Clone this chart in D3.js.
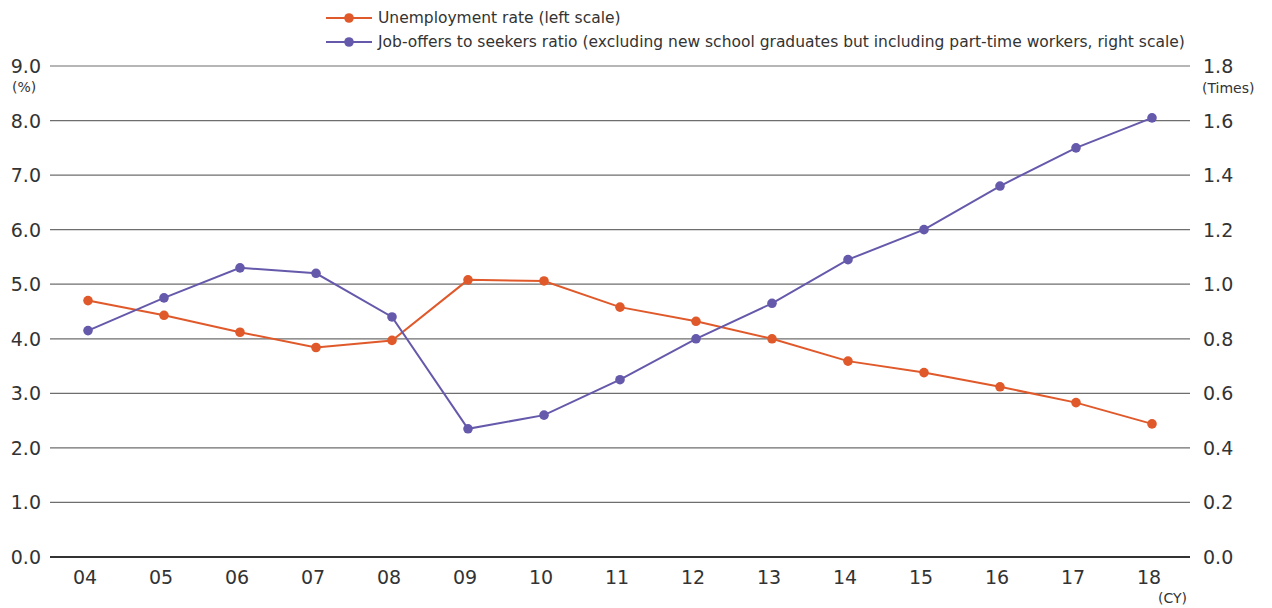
<!DOCTYPE html>
<html>
<head>
<meta charset="utf-8">
<script src="https://cdn.jsdelivr.net/npm/d3@7"></script>
<style>
  body { margin: 0; background: #fff; }
  svg { display: block; font-family: "DejaVu Sans", sans-serif; }
</style>
</head>
<body>
<div id="chart"></div>
<script>
// unemployment vs job-offers ratio, 2004-2018
var years = ['04','05','06','07','08','09','10','11','12','13','14','15','16','17','18'];
var unemployment = [4.7, 4.43, 4.12, 3.84, 3.97, 5.08, 5.06, 4.58, 4.32, 4.0, 3.59, 3.38, 3.12, 2.83, 2.44];
var jobRatio = [0.83, 0.95, 1.06, 1.04, 0.88, 0.47, 0.52, 0.65, 0.80, 0.93, 1.09, 1.20, 1.36, 1.50, 1.61];
var leftTicks = [0, 1, 2, 3, 4, 5, 6, 7, 8, 9];
var rightTicks = [0, 0.2, 0.4, 0.6, 0.8, 1.0, 1.2, 1.4, 1.6, 1.8];
var legendLabels = [
	'Unemployment rate (left scale)',
	'Job-offers to seekers ratio (excluding new school graduates but including part-time workers, right scale)'
];

var fmt = {
	left: 50, right: 1190, top: 66, bottom: 557,
	clr_unemp: '#e0592a',
	clr_job: '#6559ab',
	clr_grid: '#6e6e6e',
	clr_text: '#333'
};

var W = 1272, H = 608;
var svg = d3.select('#chart').append('svg').attr('width', W).attr('height', H);

var x = d3.scaleBand().domain(years).range([fmt.left, fmt.right]);
var yL = d3.scaleLinear().domain([0, 9]).range([fmt.bottom, fmt.top]);
var yR = d3.scaleLinear().domain([0, 1.8]).range([fmt.bottom, fmt.top]);

// grid
svg.append('g').selectAll('line').data(leftTicks.filter(function(d){ return d > 0; }))
	.join('line')
	.attr('x1', fmt.left).attr('x2', fmt.right)
	.attr('y1', function(d){ return yL(d); }).attr('y2', function(d){ return yL(d); })
	.attr('stroke', fmt.clr_grid).attr('stroke-width', 1.2);

// baseline
svg.append('line')
	.attr('x1', fmt.left).attr('x2', fmt.right)
	.attr('y1', yL(0)).attr('y2', yL(0))
	.attr('stroke', '#333').attr('stroke-width', 2.2);

// left axis labels
svg.append('g').selectAll('text').data(leftTicks).join('text')
	.attr('x', 41).attr('y', function(d){ return yL(d) + 7; })
	.attr('text-anchor', 'end')
	.attr('font-size', 19).attr('fill', fmt.clr_text)
	.text(function(d){ return d.toFixed(1); });
svg.append('text').attr('x', 12).attr('y', 92)
	.attr('font-size', 14).attr('fill', fmt.clr_text).text('(%)');

// right axis labels
svg.append('g').selectAll('text').data(rightTicks).join('text')
	.attr('x', 1203).attr('y', function(d){ return yR(d) + 7; })
	.attr('font-size', 19).attr('fill', fmt.clr_text)
	.text(function(d){ return d.toFixed(1); });
svg.append('text').attr('x', 1202).attr('y', 93)
	.attr('font-size', 14).attr('fill', fmt.clr_text).text('(Times)');

// x labels
svg.append('g').selectAll('text').data(years).join('text')
	.attr('x', function(d){ return x(d) + x.bandwidth()/2 - 3; })
	.attr('y', 584)
	.attr('text-anchor', 'middle')
	.attr('font-size', 19).attr('fill', fmt.clr_text)
	.text(function(d){ return d; });
svg.append('text').attr('x', 1158).attr('y', 603)
	.attr('font-size', 14).attr('fill', fmt.clr_text).text('(CY)');

function drawSeries(vals, yScale, clr) {
	var line = d3.line()
		.x(function(d, i){ return x(years[i]) + x.bandwidth()/2; })
		.y(function(d){ return yScale(d); });
	svg.append('path').datum(vals)
		.attr('d', line)
		.attr('fill', 'none').attr('stroke', clr).attr('stroke-width', 2);
	svg.append('g').selectAll('circle').data(vals).join('circle')
		.attr('cx', function(d, i){ return x(years[i]) + x.bandwidth()/2; })
		.attr('cy', function(d){ return yScale(d); })
		.attr('r', 4.8).attr('fill', clr);
}
drawSeries(unemployment, yL, fmt.clr_unemp);
drawSeries(jobRatio, yR, fmt.clr_job);

// legend
var legClr = [fmt.clr_unemp, fmt.clr_job];
legendLabels.forEach(function(lbl, i) {
	var ly = 18 + i * 24;
	var g = svg.append('g');
	g.append('line').attr('x1', 326).attr('x2', 372).attr('y1', ly).attr('y2', ly)
		.attr('stroke', legClr[i]).attr('stroke-width', 2);
	g.append('circle').attr('cx', 349).attr('cy', ly).attr('r', 4.8).attr('fill', legClr[i]);
	g.append('text').attr('x', 378).attr('y', ly + 5)
		.attr('font-size', 15.5).attr('fill', fmt.clr_text).text(lbl);
});
</script>
</body>
</html>
